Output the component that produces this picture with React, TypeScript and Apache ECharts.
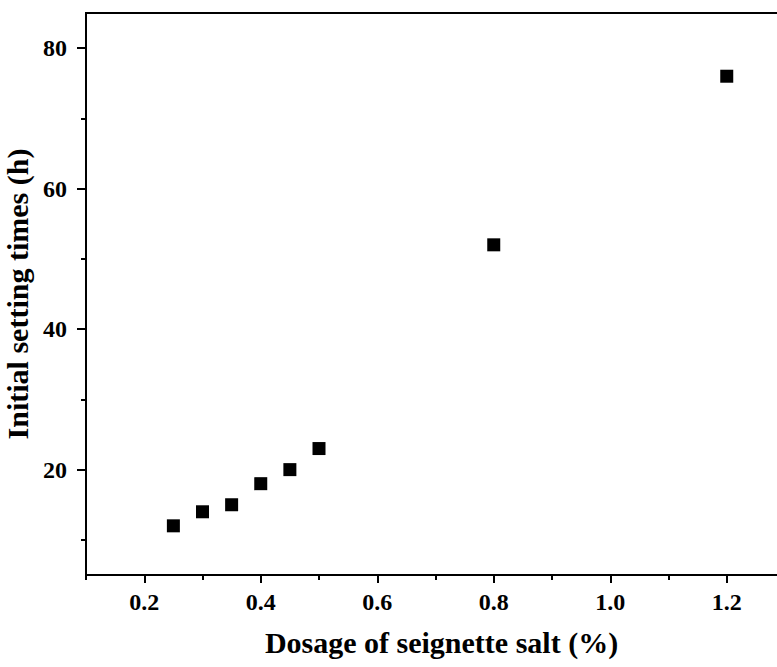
import React, { useEffect, useRef } from "react";
import * as echarts from "echarts";

const dosage = [0.25, 0.3, 0.35, 0.4, 0.45, 0.5, 0.8, 1.2];
const settingTime = [12, 14, 15, 18, 20, 23, 52, 76];
const xMajorTicks = [0.2, 0.4, 0.6, 0.8, 1.0, 1.2];
const xMinorTicks = [0.1, 0.3, 0.5, 0.7, 0.9, 1.1];
const yMajorTicks = [20, 40, 60, 80];
const yMinorTicks = [10, 30, 50, 70];

const FONT = "'Liberation Serif', 'Times New Roman', serif";

export default function App() {
  const ref = useRef<HTMLDivElement>(null);
  useEffect(() => {
    if (!ref.current) return;
    const chart = echarts.init(ref.current, null, { renderer: "svg" });
    const axisLine = { show: true, lineStyle: { color: "#000", width: 2 } };
    chart.setOption({
      animation: false,
      backgroundColor: "#fff",
      grid: {
        left: 86,
        right: 0,
        top: 13,
        bottom: 92,
        containLabel: false,
        outerBoundsMode: "none",
        show: true,
        borderColor: "#000",
        borderWidth: 2,
        backgroundColor: "transparent",
      },
      xAxis: [
        {
          type: "value",
          min: 0.1,
          max: 1.3,
          position: "bottom",
          axisLine,
          axisTick: {
            show: true,
            customValues: xMajorTicks,
            length: 8,
            inside: false,
            lineStyle: { color: "#000", width: 2 },
          },
          axisLabel: {
            show: true,
            customValues: xMajorTicks,
            formatter: (v: number) => v.toFixed(1),
            fontSize: 24,
            fontWeight: "bold",
            fontFamily: FONT,
            color: "#000",
            margin: 15,
          },
          splitLine: { show: false },
          name: "Dosage of seignette salt (%)",
          nameLocation: "middle",
          nameGap: 52,
          nameTextStyle: {
            fontSize: 30,
            fontWeight: "bold",
            fontFamily: FONT,
            color: "#000",
            padding: [0, 0, 0, 12],
          },
        },
        {
          type: "value",
          min: 0.1,
          max: 1.3,
          position: "bottom",
          axisLine: { show: false },
          axisTick: {
            show: true,
            customValues: xMinorTicks,
            length: 5,
            inside: false,
            lineStyle: { color: "#000", width: 2 },
          },
          axisLabel: { show: false },
          splitLine: { show: false },
        },
      ],
      yAxis: [
        {
          type: "value",
          min: 5,
          max: 85,
          position: "left",
          axisLine,
          axisTick: {
            show: true,
            customValues: yMajorTicks,
            length: 9,
            inside: false,
            lineStyle: { color: "#000", width: 2 },
          },
          axisLabel: {
            show: true,
            customValues: yMajorTicks,
            fontSize: 24,
            fontWeight: "bold",
            fontFamily: FONT,
            color: "#000",
            margin: 19,
          },
          splitLine: { show: false },
          name: "Initial setting times (h)",
          nameLocation: "middle",
          nameGap: 47,
          nameTextStyle: {
            fontSize: 30,
            fontWeight: "bold",
            fontFamily: FONT,
            color: "#000",
          },
        },
        {
          type: "value",
          min: 5,
          max: 85,
          position: "left",
          axisLine: { show: false },
          axisTick: {
            show: true,
            customValues: yMinorTicks,
            length: 5,
            inside: false,
            lineStyle: { color: "#000", width: 2 },
          },
          axisLabel: { show: false },
          splitLine: { show: false },
        },
      ],
      series: [
        {
          type: "scatter",
          xAxisIndex: 0,
          yAxisIndex: 0,
          symbol: "rect",
          symbolSize: 13,
          itemStyle: { color: "#000", opacity: 1 },
          data: dosage.map((x, i) => [x, settingTime[i]]),
        },
      ],
    });
    return () => chart.dispose();
  }, []);
  return (
    <div
      style={{
        position: "fixed",
        left: 0,
        top: 0,
        width: 777,
        height: 667,
        overflow: "hidden",
        background: "#fff",
      }}
    >
      <div ref={ref} style={{ width: 785, height: 667 }} />
    </div>
  );
}
